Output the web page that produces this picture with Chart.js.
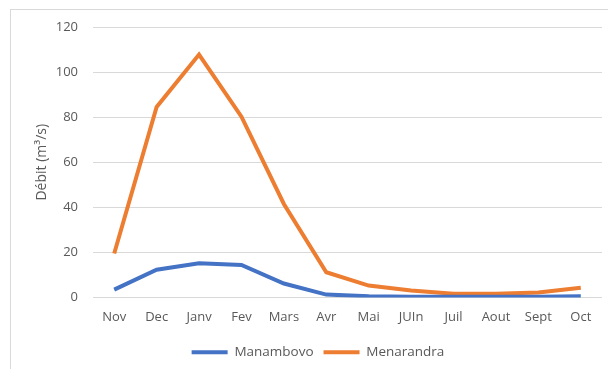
<!DOCTYPE html>
<html>
<head>
<meta charset="utf-8">
<script src="https://cdn.jsdelivr.net/npm/chart.js@4/dist/chart.umd.min.js"></script>
<style>
  html, body { margin: 0; padding: 0; background: #fff; }
  #wrap { position: relative; width: 608px; height: 369px; overflow: hidden; }
  #frame { position: absolute; left: 10px; top: 9px; right: -2px; bottom: -2px;
           border-top: 1px solid #d9d9d9; border-left: 1px solid #d9d9d9; pointer-events: none; }
  canvas { position: absolute; left: 0; top: 0; }
</style>
</head>
<body>
<div id="wrap">
  <canvas id="c" width="608" height="369"></canvas>
  <div id="frame"></div>
</div>
<script>
// Monthly discharge (m³/s), hydrological year Nov → Oct
const months = ['Nov', 'Dec', 'Janv', 'Fev', 'Mars', 'Avr', 'Mai', 'JUIn', 'Juil', 'Aout', 'Sept', 'Oct'];
const manambovo = [3.5, 12.3, 15.2, 14.4, 6.2, 1.3, 0.5, 0.3, 0.3, 0.3, 0.3, 0.5];
const menarandra = [19.5, 84.5, 107.8, 80.2, 41.5, 11.2, 5.3, 3.1, 1.7, 1.7, 2.2, 4.3];
const yTicks = { min: 0, max: 120, step: 20 };

const grey = '#595959';
const font = { family: "'Open Sans', 'Liberation Sans', sans-serif", size: 13 };

new Chart(document.getElementById('c'), {
  type: 'line',
  data: {
    labels: months,
    datasets: [
      { label: 'Manambovo', data: manambovo, borderColor: '#4472C4', backgroundColor: '#4472C4',
        borderWidth: 4, pointRadius: 0, tension: 0 },
      { label: 'Menarandra', data: menarandra, borderColor: '#ED7D31', backgroundColor: '#ED7D31',
        borderWidth: 4, pointRadius: 0, tension: 0 }
    ]
  },
  options: {
    responsive: false,
    animation: false,
    layout: { padding: { left: 34, right: 6, top: 27, bottom: 0 } },
    plugins: {
      tooltip: { enabled: false },
      legend: {
        position: 'bottom',
        labels: {
          color: grey, font: { family: font.family, size: 13.5 }, boxWidth: 36, boxHeight: 4, padding: 10,
          generateLabels(chart) {
            return chart.data.datasets.map((ds, i) => ({
              text: ds.label, fillStyle: ds.borderColor, strokeStyle: ds.borderColor,
              lineWidth: 0, fontColor: grey, datasetIndex: i, hidden: false
            }));
          }
        }
      }
    },
    scales: {
      x: {
        offset: true,
        grid: { display: false, drawTicks: false, offset: true },
        border: { display: false },
        ticks: { color: grey, font: font, padding: 12, maxRotation: 0 },
        afterFit(scale) { scale.height = 38; }
      },
      y: {
        min: yTicks.min, max: yTicks.max,
        grid: { color: '#d9d9d9', lineWidth: 1, drawTicks: false },
        border: { display: false },
        ticks: { stepSize: yTicks.step, color: grey, font: font, padding: 15 },
        title: { display: true, text: 'Débit (m³/s)', color: grey,
                 font: { family: font.family, size: 14 }, padding: { top: 0, bottom: 4 } },
        afterFit(scale) { scale.width = 59; }
      }
    }
  }
});
</script>
</body>
</html>
